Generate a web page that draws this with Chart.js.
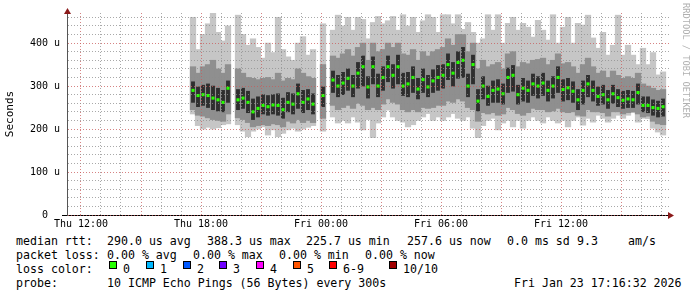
<!DOCTYPE html>
<html><head><meta charset="utf-8">
<script src="https://cdn.jsdelivr.net/npm/chart.js"></script>
<style>
html,body{margin:0;padding:0;background:#fff;}
#wrap{position:relative;width:697px;height:297px;overflow:hidden;background:#fff;}
#c{position:absolute;left:0;top:0;}
.t{position:absolute;font-family:'DejaVu Sans Mono',monospace;font-size:11.6px;line-height:14px;color:#000;white-space:pre;}
.b{position:absolute;width:6px;height:6px;border:1px solid #000;top:261px;}
#tag{position:absolute;left:681px;top:3px;writing-mode:vertical-rl;font-family:'DejaVu Sans Mono',monospace;font-size:8.7px;color:#b0b0b0;white-space:pre;line-height:10px;}
</style></head>
<body>
<div id="wrap">
<canvas id="c" width="697" height="232"></canvas>
<div id="tag">RRDTOOL / TOBI OETIKER</div>

<span class="t" style="left:16px;top:234px">median rtt:</span>
<span class="t" style="left:107px;top:234px">290.0 us avg</span>
<span class="t" style="left:207px;top:234px">388.3 us max</span>
<span class="t" style="left:306px;top:234px">225.7 us min</span>
<span class="t" style="left:407px;top:234px">257.6 us now</span>
<span class="t" style="left:507px;top:234px">0.0 ms sd</span>
<span class="t" style="left:577px;top:234px">9.3</span>
<span class="t" style="left:628px;top:234px">am/s</span>

<span class="t" style="left:16px;top:248px">packet loss:</span>
<span class="t" style="left:107px;top:248px">0.00 % avg</span>
<span class="t" style="left:193px;top:248px">0.00 % max</span>
<span class="t" style="left:279px;top:248px">0.00 % min</span>
<span class="t" style="left:365px;top:248px">0.00 % now</span>

<span class="t" style="left:16px;top:262px">loss color:</span>
<div class="b" style="left:109px;background:#26ff00"></div><span class="t" style="left:123px;top:262px">0</span>
<div class="b" style="left:146px;background:#00b8ff"></div><span class="t" style="left:160px;top:262px">1</span>
<div class="b" style="left:183px;background:#0059ff"></div><span class="t" style="left:197px;top:262px">2</span>
<div class="b" style="left:219px;background:#7000ff"></div><span class="t" style="left:233px;top:262px">3</span>
<div class="b" style="left:256px;background:#ff00ff"></div><span class="t" style="left:270px;top:262px">4</span>
<div class="b" style="left:293px;background:#ff5500"></div><span class="t" style="left:307px;top:262px">5</span>
<div class="b" style="left:329px;background:#ff0000"></div><span class="t" style="left:343px;top:262px">6-9</span>
<div class="b" style="left:389px;background:#a10000"></div><span class="t" style="left:403px;top:262px">10/10</span>

<span class="t" style="left:16px;top:276px">probe:</span>
<span class="t" style="left:107px;top:276px">10 ICMP Echo Pings (56 Bytes) every 300s</span>
<span class="t" style="left:514px;top:276px">Fri Jan 23 17:16:32 2026</span>
</div>
<script>
// time axis: hours since Thu 00:00, one column every 15 minutes
const startHour = 17.6;
const stepHours = 0.25;
const tickHours = [12, 18, 24, 30, 36];
const tickLabels = ['Thu 12:00', 'Thu 18:00', 'Fri 00:00', 'Fri 06:00', 'Fri 12:00'];
const yTickValues = [0, 100, 200, 300, 400];
const yTickLabels = ['0  ', '100 u', '200 u', '300 u', '400 u'];

// RTT in microseconds (smoke: outer max/min, inner quantiles, median)
const maxV = [460,385,420,445,470,425,405,440,null,465,420,395,410,390,365,400,378,460,385,368,360,400,415,372,385,null,445,null,430,465,440,460,430,460,455,410,448,462,445,452,462,430,466,440,460,425,452,466,460,425,466,466,445,466,432,448,425,400,410,466,430,466,400,446,460,430,446,437,414,453,430,407,466,400,437,460,400,446,442,465,412,388,425,372,395,465,372,395,372,350,388,350,378,326,333];
const hi2 = [345,330,345,350,360,340,330,350,null,340,330,320,318,315,318,320,315,330,312,318,315,340,330,322,318,null,350,null,370,365,375,385,370,390,400,360,400,380,385,400,390,400,375,372,385,360,380,370,380,385,390,410,395,420,420,380,400,340,360,345,350,355,340,375,380,345,355,352,360,362,365,350,360,375,352,355,345,330,350,365,345,330,335,320,335,325,318,322,318,330,305,300,295,290,292];
const hi1 = [310,298,302,305,300,295,290,312,null,292,295,288,270,275,280,278,280,282,272,285,282,305,290,292,282,null,298,null,335,325,332,340,325,355,370,322,368,328,345,370,350,372,330,332,345,318,340,325,338,348,350,375,355,380,390,328,372,292,322,300,312,315,305,342,348,302,318,312,328,322,330,312,322,345,315,318,310,292,312,325,312,298,302,290,302,292,288,290,288,305,275,275,268,265,270];
const med = [290,278,280,278,272,268,262,295,null,268,272,262,240,248,255,252,256,255,245,262,258,282,262,270,258,null,278,null,314,300,307,318,300,330,345,298,345,300,320,345,325,345,300,305,320,293,315,298,312,320,325,350,330,355,360,300,350,265,300,276,290,293,282,320,325,280,295,290,305,300,307,290,300,320,292,296,288,268,290,305,290,276,280,268,282,273,267,270,268,285,255,255,250,248,252];
const lo1 = [262,252,255,250,245,242,240,262,null,245,248,238,222,228,235,232,235,232,225,240,235,248,238,245,235,null,252,null,285,275,280,290,275,295,300,272,305,275,290,310,295,305,278,275,285,270,285,275,285,290,295,315,300,318,320,275,305,242,270,255,262,262,258,285,288,258,265,262,278,272,278,265,272,285,265,268,262,245,258,275,265,255,258,248,260,252,248,250,250,258,240,238,232,228,230];
const lo2 = [245,232,230,226,222,220,218,235,null,226,222,215,205,208,210,208,212,210,205,218,214,222,215,220,215,null,225,null,255,245,250,255,248,260,255,245,250,245,258,270,262,258,245,240,245,240,250,248,250,255,255,265,262,270,265,250,245,218,238,235,238,232,235,250,245,236,232,238,248,245,245,240,242,248,240,238,240,232,230,245,240,240,238,230,240,240,235,238,240,235,228,230,218,212,210];
const minV = [235,208,200,204,200,203,210,212,null,210,195,182,195,200,205,186,198,182,190,198,202,195,200,204,208,null,195,null,228,214,220,214,228,216,198,222,180,214,228,244,228,220,216,205,210,220,228,236,220,228,220,228,236,225,220,228,202,180,208,220,225,198,214,220,205,220,202,220,228,220,214,228,220,214,220,205,220,228,209,225,216,232,225,216,225,232,225,232,238,216,225,224,202,193,186];

const hours = med.map((_, i) => startHour + i * stepHours);
function band(lo, hi) {
  const out = [];
  hours.forEach((h, i) => { if (lo[i] != null && hi[i] != null) out.push({x: h, y: [lo[i], hi[i]]}); });
  return out;
}
const medPts = [];
hours.forEach((h, i) => { if (med[i] != null) medPts.push({x: h, y: med[i]}); });

const MONO = "'DejaVu Sans Mono', monospace";
const minorGrid = 'rgba(140,140,140,0.75)', majorGrid = 'rgba(200,90,90,0.75)';
const DOTS = [1, 2];

const arrows = {
  id: 'arrows',
  afterDraw(chart) {
    const {ctx, chartArea: a} = chart;
    ctx.save();
    ctx.strokeStyle = '#000'; ctx.lineWidth = 1;
    ctx.beginPath(); ctx.moveTo(62, a.bottom + 0.5); ctx.lineTo(a.left, a.bottom + 0.5); ctx.stroke();
    ctx.fillStyle = '#8b1a1a';
    ctx.beginPath();
    ctx.moveTo(a.right - 1, a.bottom - 3); ctx.lineTo(a.right + 5, a.bottom + 0.5); ctx.lineTo(a.right - 1, a.bottom + 4);
    ctx.closePath(); ctx.fill();
    ctx.beginPath();
    ctx.moveTo(a.left - 3, a.top + 1); ctx.lineTo(a.left + 0.5, a.top - 5); ctx.lineTo(a.left + 4, a.top + 1);
    ctx.closePath(); ctx.fill();
    ctx.restore();
  }
};

new Chart(document.getElementById('c'), {
  type: 'bar',
  data: {
    datasets: [
      {type: 'bar', data: band(minV, maxV), backgroundColor: '#c6c6c6', grouped: false, barThickness: 5.6, order: 4},
      {type: 'bar', data: band(lo2, hi2), backgroundColor: '#8f8f8f', grouped: false, barThickness: 5.6, order: 3},
      {type: 'bar', data: band(lo1, hi1), backgroundColor: '#2e2e2e', grouped: false, barThickness: 3.2, order: 2},
      {type: 'line', data: medPts, showLine: false, pointStyle: 'rect', pointRadius: 2.2, pointBorderWidth: 0,
       pointBackgroundColor: '#26ff00', order: 1}
    ]
  },
  options: {
    responsive: false, animation: false, events: [],
    layout: {padding: {top: 13, right: 28, left: 0, bottom: 0}},
    plugins: {legend: {display: false}, tooltip: {enabled: false}},
    scales: {
      x: {
        type: 'linear', min: 11.3, max: 41.4, offset: false,
        afterFit(s) { s.height = 17; },
        afterBuildTicks(s) { const t = []; for (let h = 12; h <= 41; h++) t.push({value: h}); s.ticks = t; },
        ticks: {
          autoSkip: false, maxRotation: 0, minRotation: 0, padding: 3, color: '#000',
          font: {family: MONO, size: 10},
          callback(v) { const k = tickHours.indexOf(v); return k >= 0 ? tickLabels[k] : ''; }
        },
        grid: {
          offset: false, drawTicks: false, z: 1, lineWidth: 1, borderDash: DOTS,
          color: (c) => (c.tick && c.tick.value % 3 === 0) ? majorGrid : minorGrid
        },
        border: {display: true, color: '#000', width: 1, dash: DOTS, z: 1}
      },
      y: {
        type: 'linear', min: 0, max: 470,
        afterFit(s) { s.width = 67; },
        afterBuildTicks(s) { const t = []; for (let v = 0; v <= 460; v += 20) t.push({value: v}); s.ticks = t; },
        ticks: {
          autoSkip: false, padding: 7, color: '#000', font: {family: MONO, size: 10},
          callback(v) { const k = yTickValues.indexOf(v); return k >= 0 ? yTickLabels[k] : ''; }
        },
        grid: {
          drawTicks: false, z: 1, lineWidth: 1, borderDash: DOTS,
          color: (c) => (c.tick && c.tick.value % 100 === 0) ? majorGrid : minorGrid
        },
        border: {display: true, color: '#555', width: 1, dash: DOTS, z: 1},
        title: {display: true, text: 'Seconds', color: '#000', font: {family: MONO, size: 11}, padding: {top: 4, bottom: 0}}
      }
    }
  },
  plugins: [arrows]
});
</script>
</body></html>
